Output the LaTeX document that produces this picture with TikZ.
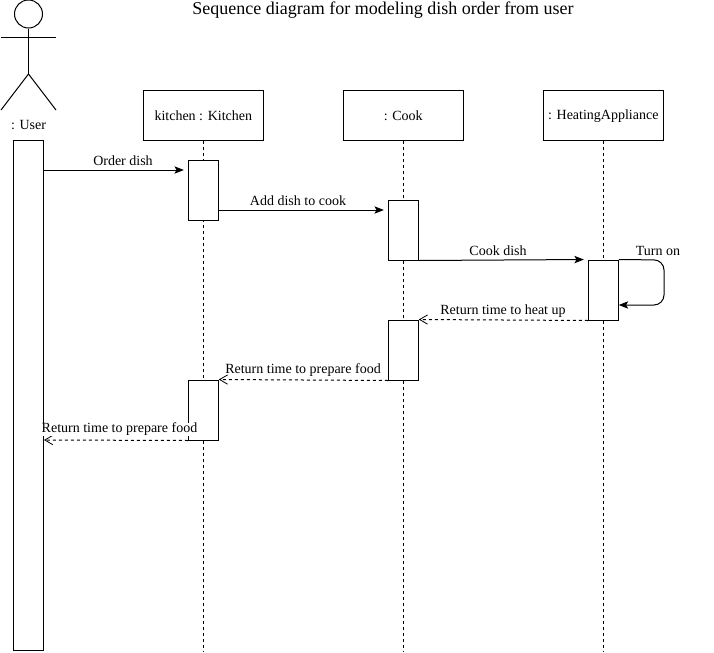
\documentclass[tikz,border=0pt]{standalone}
\usepackage{fontspec}
\setmainfont{Liberation Serif}
\usetikzlibrary{arrows.meta}
\begin{document}
\begin{tikzpicture}[x=0.75pt,y=-0.75pt,line width=0.75pt,
  head node/.style={rectangle,draw,fill=white,minimum width=90pt,minimum height=37.5pt,inner sep=0pt},
  act node/.style={rectangle,draw,fill=white,minimum width=22.5pt,inner sep=0pt},
  text node/.style={font=\fontsize{10.5}{12}\selectfont,inner sep=0pt},
  lifeline/.style={dashed,dash pattern=on 2.25pt off 2.25pt},
  call/.style={-{Stealth[length=7pt,width=5.5pt,inset=1.5pt]},shorten >=3pt},
  reply/.style={lifeline,-{Straight Barb[length=6pt,width=7pt,line width=0.6pt]}}]
  \useasboundingbox (0,0) rectangle (714,653);

  \node[text node,font=\fontsize{13.5}{16}\selectfont] (title) at (383,10) {Sequence diagram for modeling dish order from user};

  % actor
  \node[circle,draw,minimum size=21pt,inner sep=0pt] (head) at (28.5,14) {};
  \coordinate (hip) at (28.5,74);
  \coordinate (larm) at (1,37);
  \coordinate (rarm) at (56,37);
  \coordinate (lfoot) at (1,110);
  \coordinate (rfoot) at (56,110);
  \draw (head.south) -- (hip);
  \draw (larm) -- (rarm);
  \draw (lfoot) -- (hip) -- (rfoot);
  \node[text node] (userlabel) at (28.5,125) {: User};

  % heads
  \node[head node] (kitchen) at (203.3,115) {};
  \node[head node] (cook) at (403.3,115) {};
  \node[head node] (heating) at (603.3,115) {};
  \node[text node] (kitchenlabel) at (203.3,116) {kitchen : Kitchen};
  \node[text node] (cooklabel) at (403.3,116) {: Cook};
  \node[text node] (heatinglabel) at (603.3,116) {: HeatingAppliance};

  % lifelines
  \coordinate (kitchenend) at (203.3,651);
  \coordinate (cookend) at (403.3,651);
  \coordinate (heatingend) at (603.3,651);
  \draw[lifeline] (kitchen) -- (kitchenend);
  \draw[lifeline] (cook) -- (cookend);
  \draw[lifeline] (heating) -- (heatingend);

  % activations
  \node[act node,minimum height=382.5pt] (user) at (28.5,395) {};
  \node[act node,minimum height=45pt] (a1) at (203.3,190) {};
  \node[act node,minimum height=45pt] (a2) at (403.3,230) {};
  \node[act node,minimum height=45pt] (a3) at (603.3,290) {};
  \node[act node,minimum height=45pt] (a4) at (403.3,350) {};
  \node[act node,minimum height=45pt] (a5) at (203.3,410) {};

  % messages
  \draw[call] (user.east |- 0,170) -- (a1.west |- 0,170);
  \draw[call] (a1.east |- 0,210) -- (a2.west |- 0,210);
  \draw[call] (a2.south east) -- (a3.north west);
  \draw[-{Stealth[length=7pt,width=5.5pt,inset=1.5pt]},rounded corners=7.5pt]
    (a3.north east) -- (664,260) -- (664,305) -- (a3.east |- 0,305);
  \draw[reply] (a3.south west) -- (a4.north east);
  \draw[reply] (a4.south west) -- (a5.north east);
  \draw[reply] (a5.south west) -- (user.east |- 0,440);

  % labels
  \node[text node] (order) at (123,160.5) {Order dish};
  \node[text node] (add) at (298,200.5) {Add dish to cook};
  \node[text node] (cookdish) at (498,250.5) {Cook dish};
  \node[text node] (turnon) at (658,250.5) {Turn on};
  \node[text node] (heatup) at (503,311) {Return time to heat up};
  \node[text node] (prep1) at (303,370.5) {Return time to prepare food};
  \node[text node,fill=white] (prep2) at (119.5,429.5) {Return time to prepare food};
\end{tikzpicture}
\end{document}
